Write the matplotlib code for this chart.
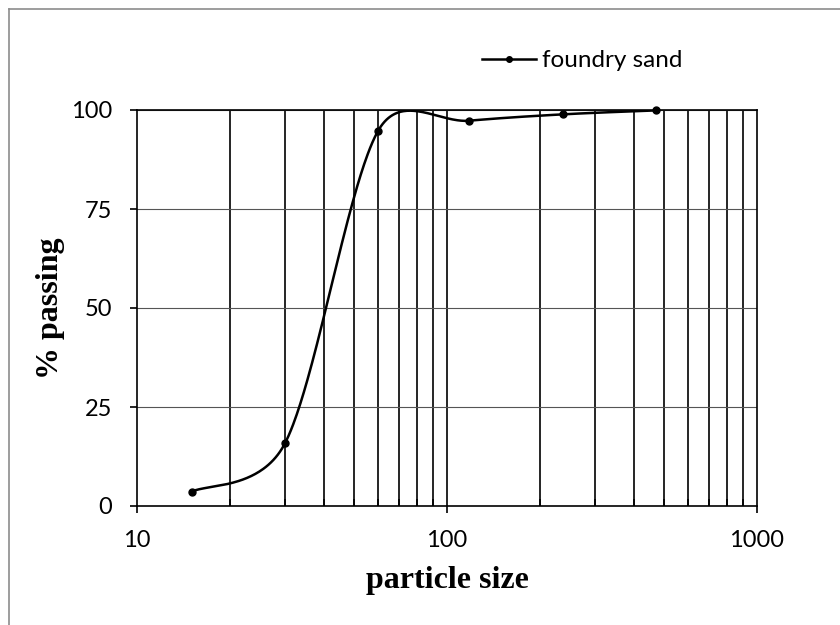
import matplotlib
matplotlib.use('Agg')
import matplotlib.pyplot as plt
import numpy as np
from matplotlib.lines import Line2D
from matplotlib.ticker import FixedLocator, NullFormatter

# sieve analysis - foundry sand
sizes = [15, 30, 60, 118, 236, 473]
passing = [3.6, 15.8, 94.8, 97.3, 98.9, 99.9]
series_name = 'foundry sand'
y_ticks = [0, 25, 50, 75, 100]
x_ticks = [10, 100, 1000]

label_font = ['Lato', 'DejaVu Sans']
title_font = ['Liberation Serif', 'DejaVu Serif']


def smooth_curve(ax, x, y, steps=80):
    # spreadsheet style smoothed line: bezier segments built in screen space,
    # control arms capped at half of the segment length
    pts = ax.transData.transform(np.column_stack([x, y]))
    n = len(pts)
    out = [pts[0]]
    f = 1.0 / 6.0
    for i in range(n - 1):
        p0 = pts[i - 1] if i > 0 else pts[i]
        p1 = pts[i]
        p2 = pts[i + 1]
        p3 = pts[i + 2] if i + 2 < n else pts[i + 1]
        d12 = np.hypot(*(p2 - p1))
        d02 = np.hypot(*(p2 - p0))
        d13 = np.hypot(*(p3 - p1))
        f1 = f if d02 * f < d12 / 2 else d12 / d02 / 2
        f2 = f if d13 * f < d12 / 2 else d12 / d13 / 2
        c1 = p1 + (p2 - p0) * f1
        c2 = p2 - (p3 - p1) * f2
        t = np.linspace(0, 1, steps)[1:, None]
        seg = ((1 - t) ** 3) * p1 + 3 * ((1 - t) ** 2) * t * c1 \
            + 3 * (1 - t) * t ** 2 * c2 + t ** 3 * p2
        out.extend(seg)
    data = ax.transData.inverted().transform(np.array(out))
    return data[:, 0], data[:, 1]


fig = plt.figure(figsize=(8.4, 6.25), dpi=100)
ax = fig.add_axes([0.1631, 0.1904, 0.7381, 0.6336])

# outer chart border
fig.add_artist(Line2D([8.5 / 840, 8.5 / 840], [1 - 8.5 / 625, -0.1],
                      transform=fig.transFigure, color='#8c8c8c', lw=1.2))
fig.add_artist(Line2D([8.5 / 840, 1.1], [1 - 8.5 / 625, 1 - 8.5 / 625],
                      transform=fig.transFigure, color='#8c8c8c', lw=1.2))

ax.set_xscale('log')
ax.set_xlim(10, 1000)
ax.set_ylim(0, 100)

# gridlines
minor = [m * d for d in (10, 100) for m in range(2, 10)]
for xv in minor + [100]:
    ax.axvline(xv, color='black', lw=1.2, zorder=1)
for yv in y_ticks[1:]:
    ax.axhline(yv, color='#555555', lw=0.8, zorder=1)

sx, sy = smooth_curve(ax, sizes, passing)
ax.plot(sx, sy, color='black', lw=1.8, zorder=3, solid_capstyle='round')
ax.plot(sizes, passing, 'o', color='black', ms=5, zorder=4, clip_on=False)

ax.xaxis.set_major_locator(FixedLocator(x_ticks))
ax.xaxis.set_minor_locator(FixedLocator(minor))
ax.xaxis.set_minor_formatter(NullFormatter())
ax.set_xticklabels([str(v) for v in x_ticks])
ax.set_yticks(y_ticks)
ax.set_yticklabels([str(v) for v in y_ticks])

for s in ax.spines.values():
    s.set_color('black')
    s.set_linewidth(1.2)

ax.tick_params(axis='both', which='major', direction='out', length=5, width=1.2,
               colors='black', labelsize=17)
ax.tick_params(axis='x', which='minor', direction='in', length=5, width=1.2)
ax.tick_params(axis='x', which='major', pad=12)
ax.tick_params(axis='y', which='major', pad=13)
for lab in ax.get_xticklabels() + ax.get_yticklabels():
    lab.set_family(label_font)

ax.set_xlabel('particle size', family=title_font, fontweight='bold',
              fontsize=23, labelpad=11)
ax.set_ylabel('% passing', family=title_font, fontweight='bold',
              fontsize=23, labelpad=4)

handle = Line2D([], [], color='black', lw=1.8, marker='o', ms=4)
ax.legend([handle], [series_name], loc='lower left', bbox_to_anchor=(0.557, 1.098),
          frameon=False, handlelength=2.2, handletextpad=0.25,
          prop={'family': label_font, 'size': 17.5}, borderaxespad=0,
          borderpad=0)

fig.savefig('out.png', dpi=100)
